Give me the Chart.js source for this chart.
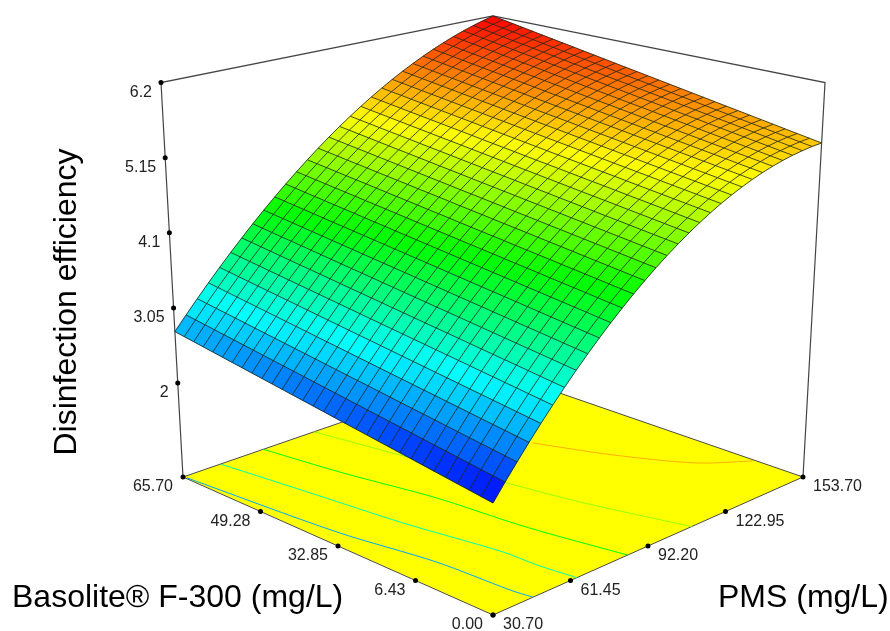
<!DOCTYPE html>
<html>
<head>
<meta charset="utf-8">
<title>Disinfection efficiency surface</title>
<style>
html, body { margin: 0; padding: 0; background: #fff; }
canvas { display: block; filter: blur(0.45px); }
</style>
<script src="https://cdn.jsdelivr.net/npm/chart.js@4/dist/chart.umd.js"></script>
</head>
<body>
<canvas id="surface" width="890" height="631"></canvas>
<script>
// axis tick labels, as printed in the figure
const pmsTicks = ['30.70', '61.45', '92.20', '122.95', '153.70'];
const basoliteTicks = ['0.00', '6.43', '32.85', '49.28', '65.70'];
const effTicks = [6.2, 5.15, 4.1, 3.05, 2];

// grid of the response surface
const pmsGrid = [30.7,34.8,38.9,43.0,47.1,51.2,55.3,59.4,63.5,67.6,71.7,75.8,79.9,84.0,88.1,92.2,96.3,100.4,104.5,108.6,112.7,116.8,120.9,125.0,129.1,133.2,137.3,141.4,145.5,149.6,153.7];
const basoliteGrid = [0,2.19,4.38,6.57,8.76,10.95,13.14,15.33,17.52,19.71,21.9,24.09,26.28,28.47,30.66,32.85,35.04,37.23,39.42,41.61,43.8,45.99,48.18,50.37,52.56,54.75,56.94,59.13,61.32,63.51,65.7];

// efficiency, one row per pmsGrid entry, one column per basoliteGrid entry
const efficiency = [
[2.090,2.112,2.134,2.156,2.178,2.200,2.222,2.244,2.266,2.288,2.310,2.332,2.354,2.376,2.398,2.420,2.442,2.464,2.486,2.508,2.530,2.552,2.574,2.596,2.618,2.640,2.662,2.684,2.706,2.728,2.750],
[2.300,2.321,2.343,2.364,2.385,2.407,2.428,2.450,2.471,2.492,2.514,2.535,2.556,2.578,2.599,2.621,2.642,2.663,2.685,2.706,2.727,2.749,2.770,2.792,2.813,2.834,2.856,2.877,2.898,2.920,2.941],
[2.502,2.523,2.544,2.564,2.585,2.606,2.627,2.648,2.669,2.689,2.710,2.731,2.752,2.773,2.794,2.814,2.835,2.856,2.877,2.898,2.919,2.939,2.960,2.981,3.002,3.023,3.044,3.064,3.085,3.106,3.127],
[2.698,2.718,2.739,2.759,2.779,2.800,2.820,2.840,2.861,2.881,2.901,2.922,2.942,2.962,2.983,3.003,3.023,3.044,3.064,3.084,3.105,3.125,3.145,3.166,3.186,3.206,3.227,3.247,3.267,3.288,3.308],
[2.887,2.907,2.927,2.947,2.967,2.987,3.006,3.026,3.046,3.066,3.086,3.106,3.126,3.146,3.166,3.186,3.205,3.225,3.245,3.265,3.285,3.305,3.325,3.345,3.365,3.385,3.404,3.424,3.444,3.464,3.484],
[3.069,3.089,3.108,3.128,3.147,3.167,3.186,3.206,3.225,3.245,3.264,3.284,3.303,3.323,3.342,3.362,3.381,3.401,3.420,3.440,3.459,3.479,3.498,3.518,3.537,3.557,3.576,3.596,3.615,3.635,3.654],
[3.244,3.263,3.282,3.302,3.321,3.340,3.359,3.378,3.397,3.417,3.436,3.455,3.474,3.493,3.512,3.532,3.551,3.570,3.589,3.608,3.627,3.647,3.666,3.685,3.704,3.723,3.742,3.762,3.781,3.800,3.819],
[3.413,3.432,3.451,3.470,3.488,3.507,3.526,3.545,3.564,3.583,3.602,3.621,3.639,3.658,3.677,3.696,3.715,3.734,3.753,3.772,3.790,3.809,3.828,3.847,3.866,3.885,3.904,3.922,3.941,3.960,3.979],
[3.574,3.593,3.611,3.630,3.649,3.667,3.686,3.705,3.723,3.742,3.761,3.779,3.798,3.817,3.835,3.854,3.873,3.891,3.910,3.929,3.947,3.966,3.985,4.003,4.022,4.041,4.059,4.078,4.097,4.115,4.134],
[3.729,3.747,3.766,3.784,3.803,3.821,3.840,3.858,3.877,3.895,3.914,3.932,3.951,3.969,3.988,4.006,4.025,4.043,4.061,4.080,4.098,4.117,4.135,4.154,4.172,4.191,4.209,4.228,4.246,4.265,4.283],
[3.877,3.895,3.914,3.932,3.950,3.969,3.987,4.005,4.024,4.042,4.060,4.079,4.097,4.115,4.134,4.152,4.170,4.189,4.207,4.225,4.244,4.262,4.280,4.299,4.317,4.335,4.354,4.372,4.390,4.409,4.427],
[4.018,4.036,4.054,4.073,4.091,4.109,4.127,4.146,4.164,4.182,4.200,4.219,4.237,4.255,4.273,4.291,4.310,4.328,4.346,4.364,4.383,4.401,4.419,4.437,4.456,4.474,4.492,4.510,4.529,4.547,4.565],
[4.152,4.170,4.188,4.207,4.225,4.243,4.261,4.280,4.298,4.316,4.334,4.353,4.371,4.389,4.407,4.425,4.444,4.462,4.480,4.498,4.517,4.535,4.553,4.571,4.590,4.608,4.626,4.644,4.663,4.681,4.699],
[4.279,4.297,4.316,4.334,4.352,4.370,4.389,4.407,4.425,4.443,4.462,4.480,4.498,4.516,4.535,4.553,4.571,4.590,4.608,4.626,4.644,4.663,4.681,4.699,4.717,4.736,4.754,4.772,4.791,4.809,4.827],
[4.399,4.417,4.436,4.454,4.472,4.491,4.509,4.528,4.546,4.564,4.583,4.601,4.619,4.638,4.656,4.675,4.693,4.711,4.730,4.748,4.766,4.785,4.803,4.822,4.840,4.858,4.877,4.895,4.913,4.932,4.950],
[4.513,4.532,4.550,4.569,4.587,4.606,4.624,4.643,4.661,4.680,4.698,4.717,4.735,4.754,4.772,4.791,4.809,4.828,4.846,4.865,4.883,4.902,4.920,4.939,4.957,4.976,4.994,5.013,5.031,5.050,5.068],
[4.619,4.638,4.656,4.675,4.694,4.713,4.731,4.750,4.769,4.787,4.806,4.825,4.843,4.862,4.881,4.900,4.918,4.937,4.956,4.974,4.993,5.012,5.030,5.049,5.068,5.087,5.105,5.124,5.143,5.161,5.180],
[4.719,4.738,4.757,4.776,4.795,4.814,4.833,4.852,4.870,4.889,4.908,4.927,4.946,4.965,4.984,5.003,5.022,5.041,5.060,5.079,5.098,5.117,5.135,5.154,5.173,5.192,5.211,5.230,5.249,5.268,5.287],
[4.812,4.831,4.850,4.870,4.889,4.908,4.927,4.947,4.966,4.985,5.004,5.024,5.043,5.062,5.081,5.100,5.120,5.139,5.158,5.177,5.197,5.216,5.235,5.254,5.274,5.293,5.312,5.331,5.350,5.370,5.389],
[4.898,4.918,4.937,4.957,4.976,4.996,5.015,5.035,5.055,5.074,5.094,5.113,5.133,5.152,5.172,5.192,5.211,5.231,5.250,5.270,5.289,5.309,5.329,5.348,5.368,5.387,5.407,5.426,5.446,5.465,5.485],
[4.977,4.997,5.017,5.037,5.057,5.077,5.097,5.117,5.137,5.157,5.177,5.197,5.217,5.237,5.257,5.277,5.297,5.317,5.337,5.357,5.377,5.397,5.417,5.437,5.457,5.477,5.497,5.517,5.537,5.557,5.577],
[5.049,5.069,5.090,5.110,5.131,5.151,5.172,5.192,5.213,5.233,5.254,5.274,5.295,5.315,5.336,5.356,5.376,5.397,5.417,5.438,5.458,5.479,5.499,5.520,5.540,5.561,5.581,5.602,5.622,5.643,5.663],
[5.114,5.135,5.156,5.177,5.198,5.219,5.240,5.261,5.282,5.303,5.324,5.345,5.366,5.387,5.408,5.429,5.450,5.470,5.491,5.512,5.533,5.554,5.575,5.596,5.617,5.638,5.659,5.680,5.701,5.722,5.743],
[5.173,5.195,5.216,5.238,5.259,5.281,5.302,5.324,5.345,5.367,5.388,5.410,5.431,5.453,5.474,5.496,5.518,5.539,5.561,5.582,5.604,5.625,5.647,5.668,5.690,5.711,5.733,5.754,5.776,5.797,5.819],
[5.224,5.246,5.268,5.291,5.313,5.335,5.357,5.379,5.401,5.424,5.446,5.468,5.490,5.512,5.534,5.557,5.579,5.601,5.623,5.645,5.667,5.690,5.712,5.734,5.756,5.778,5.800,5.823,5.845,5.867,5.889],
[5.269,5.292,5.315,5.337,5.360,5.383,5.406,5.429,5.452,5.474,5.497,5.520,5.543,5.566,5.589,5.611,5.634,5.657,5.680,5.703,5.726,5.748,5.771,5.794,5.817,5.840,5.863,5.885,5.908,5.931,5.954],
[5.307,5.331,5.354,5.378,5.401,5.425,5.448,5.472,5.496,5.519,5.543,5.566,5.590,5.613,5.637,5.661,5.684,5.708,5.731,5.755,5.778,5.802,5.826,5.849,5.873,5.896,5.920,5.943,5.967,5.990,6.014],
[5.338,5.362,5.387,5.411,5.435,5.460,5.484,5.508,5.533,5.557,5.581,5.606,5.630,5.654,5.679,5.703,5.727,5.752,5.776,5.800,5.825,5.849,5.873,5.898,5.922,5.946,5.971,5.995,6.019,6.044,6.068],
[5.362,5.387,5.412,5.438,5.463,5.488,5.513,5.538,5.563,5.589,5.614,5.639,5.664,5.689,5.714,5.740,5.765,5.790,5.815,5.840,5.865,5.891,5.916,5.941,5.966,5.991,6.016,6.042,6.067,6.092,6.117],
[5.380,5.406,5.432,5.458,5.484,5.510,5.536,5.562,5.588,5.614,5.640,5.666,5.692,5.718,5.744,5.770,5.796,5.823,5.849,5.875,5.901,5.927,5.953,5.979,6.005,6.031,6.057,6.083,6.109,6.135,6.161],
[5.390,5.417,5.444,5.471,5.498,5.525,5.552,5.579,5.606,5.633,5.660,5.687,5.714,5.741,5.768,5.795,5.822,5.849,5.876,5.903,5.930,5.957,5.984,6.011,6.038,6.065,6.092,6.119,6.146,6.173,6.200]
];

// contour lines on the floor, PMS and Basolite
const contourLevels = [2.76, 3.42, 4.1, 4.75, 5.5];
const contourPms = [
  [31.1, 36.4, 42.1, 43.7, 44.8],
  [44.1, 48.9, 52.8, 58.6, 59.1, 60.8],
  [59.8, 64.4, 70.8, 73.5, 75.3, 80.1],
  [79.1, 84.8, 91.9, 96.6, 105.6],
  [118.4, 128.1, 140.5, 153.0]
];
const contourBasolite = [
  [65.0, 34.3, 17.0, 3.7, 0],
  [65.7, 46.3, 30.0, 12.9, 6.6, 0],
  [65.7, 49.9, 33.1, 19.4, 13.0, 0],
  [65.7, 49.1, 29.7, 17.2, 0],
  [38.1, 26.0, 14.8, 9.3]
];

const pmsMin = 30.7, pmsMax = 153.7, basMin = 0, basMax = 65.7;
const zFloor = 0.592, zTop = 6.2;

// perspective view of the box, fitted to its corners
const cam = { cx: 493, y0: 615, a: 354.9, e: -68.9, g: -457.8, p: 0.14486, q: -0.0759 };

function project(pms, bas, z) {
  const s = (pms - pmsMin) / (pmsMax - pmsMin);
  const t = (bas - basMin) / (basMax - basMin);
  const h = (z - zFloor) / (zTop - zFloor);
  const d = 1 + cam.p * (s + t) + cam.q * h;
  return {
    x: cam.cx + cam.a * (s - t) / d,
    y: (cam.y0 + cam.e * (s + t) + cam.g * h) / d
  };
}

// the printed ticks sit evenly on screen along each edge
function evenly(a, b, n) {
  const out = [];
  for (let i = 0; i < n; i++) {
    const f = i / (n - 1);
    out.push({ x: a.x + (b.x - a.x) * f, y: a.y + (b.y - a.y) * f });
  }
  return out;
}

function ramp(z) {
  const f = Math.min(1, Math.max(0, (z - efficiency[0][0]) / (zTop - efficiency[0][0]))) * 4;
  const stops = [[0, 0, 255], [0, 255, 255], [0, 255, 0], [255, 255, 0], [255, 0, 0]];
  const k = Math.min(3, Math.floor(f));
  const c = stops[k].map((v, n) => Math.round(v + (stops[k + 1][n] - v) * (f - k)));
  return 'rgb(' + c.join(',') + ')';
}

const near = project(pmsMin, basMin, zFloor);
const right = project(pmsMax, basMin, zFloor);
const left = project(pmsMin, basMax, zFloor);
const back = project(pmsMax, basMax, zFloor);
const leftTop = project(pmsMin, basMax, zTop);
const rightTop = project(pmsMax, basMin, zTop);
const backTop = project(pmsMax, basMax, zTop);
const leftLow = project(pmsMin, basMax, effTicks[effTicks.length - 1]);

const pmsTickPts = evenly(near, right, pmsTicks.length);
const basTickPts = evenly(near, left, basoliteTicks.length);
const effTickPts = evenly(leftTop, leftLow, effTicks.length);

const datasets = [];

datasets.push({ label: 'floor', data: [near, right, back, left, near], showLine: true, borderColor: '#4a4a4a', borderWidth: 1, pointRadius: 0, order: 6 });

contourLevels.forEach((level, c) => {
  datasets.push({
    label: 'contour ' + level,
    data: contourPms[c].map((p, n) => project(p, contourBasolite[c][n], zFloor)),
    showLine: true, tension: 0.3, borderColor: ramp(level), borderWidth: 1, pointRadius: 0, order: 5
  });
});

datasets.push({ label: 'box', data: [left, leftTop, backTop, rightTop, right], showLine: true, borderColor: '#444', borderWidth: 1.2, pointRadius: 0, order: 4 });

// all the nodes, the plugin below fills the cells from their pixels
const nodes = [];
pmsGrid.forEach((p, i) => basoliteGrid.forEach((b, j) => nodes.push(project(p, b, efficiency[i][j]))));
datasets.push({ label: 'surface', data: nodes, pointRadius: 0, order: 3 });

pmsGrid.forEach((p, i) => {
  datasets.push({ label: 'mesh', data: basoliteGrid.map((b, j) => project(p, b, efficiency[i][j])), showLine: true, borderColor: 'rgba(25,35,25,0.8)', borderWidth: 1, pointRadius: 0, order: 2 });
});
basoliteGrid.forEach((b, j) => {
  datasets.push({ label: 'mesh', data: pmsGrid.map((p, i) => project(p, b, efficiency[i][j])), showLine: true, borderColor: 'rgba(25,35,25,0.8)', borderWidth: 1, pointRadius: 0, order: 2 });
});

datasets.push({
  label: 'ticks',
  data: [...effTickPts, ...basTickPts, ...pmsTickPts],
  pointRadius: 2.5, pointBackgroundColor: '#000', pointBorderWidth: 0, order: 1
});

const fillPlugin = {
  id: 'fillPlugin',
  beforeDatasetDraw(chart, args) {
    const ds = chart.data.datasets[args.index];
    const ctx = chart.ctx;
    const pts = args.meta.data;
    if (ds.label === 'floor') {
      ctx.save();
      ctx.fillStyle = '#ffff00';
      ctx.beginPath();
      pts.forEach((e, n) => n ? ctx.lineTo(e.x, e.y) : ctx.moveTo(e.x, e.y));
      ctx.fill();
      ctx.restore();
    }
    if (ds.label === 'surface') {
      const w = basoliteGrid.length;
      ctx.save();
      // far cells first
      for (let i = pmsGrid.length - 2; i >= 0; i--) {
        for (let j = w - 2; j >= 0; j--) {
          const a = pts[i * w + j], b = pts[i * w + j + 1], c = pts[(i + 1) * w + j + 1], d = pts[(i + 1) * w + j];
          const z = (efficiency[i][j] + efficiency[i][j + 1] + efficiency[i + 1][j] + efficiency[i + 1][j + 1]) / 4;
          ctx.fillStyle = ctx.strokeStyle = ramp(z);
          ctx.lineWidth = 0.5;
          ctx.beginPath();
          ctx.moveTo(a.x, a.y);
          ctx.lineTo(b.x, b.y);
          ctx.lineTo(c.x, c.y);
          ctx.lineTo(d.x, d.y);
          ctx.closePath();
          ctx.fill();
          ctx.stroke();
        }
      }
      ctx.restore();
    }
  },
  afterDraw(chart) {
    const ctx = chart.ctx;
    const sx = chart.scales.x, sy = chart.scales.y;
    const label = (text, pt, dx, dy, align) => {
      ctx.textAlign = align;
      ctx.fillText(text, sx.getPixelForValue(pt.x) + dx, sy.getPixelForValue(pt.y) + dy);
    };
    ctx.save();
    ctx.fillStyle = '#222';
    ctx.textBaseline = 'middle';
    ctx.font = '16px "Liberation Sans", Arial, sans-serif';
    effTicks.forEach((t, n) => label(String(t), effTickPts[n], -9, 10, 'right'));
    basoliteTicks.forEach((t, n) => label(t, basTickPts[n], -10, 10, 'right'));
    pmsTicks.forEach((t, n) => label(t, pmsTickPts[n], 10, 10, 'left'));

    ctx.fillStyle = '#000';
    ctx.font = '32px "Liberation Sans", Arial, sans-serif';
    ctx.textAlign = 'left';
    ctx.fillText('Basolite® F-300 (mg/L)', 12, 598);
    ctx.fillText('PMS (mg/L)', 718, 598);
    ctx.translate(67, 302);
    ctx.rotate(-Math.PI / 2);
    ctx.textAlign = 'center';
    ctx.fillText('Disinfection efficiency', 0, 0);
    ctx.restore();
  }
};

new Chart(document.getElementById('surface'), {
  type: 'scatter',
  data: { datasets },
  options: {
    responsive: false,
    animation: false,
    layout: { padding: 0, autoPadding: false },
    elements: { line: { tension: 0 } },
    plugins: { legend: { display: false }, tooltip: { enabled: false } },
    scales: {
      x: { type: 'linear', min: 0, max: 890, display: false },
      y: { type: 'linear', min: 0, max: 631, reverse: true, display: false }
    }
  },
  plugins: [fillPlugin]
});
</script>
</body>
</html>
